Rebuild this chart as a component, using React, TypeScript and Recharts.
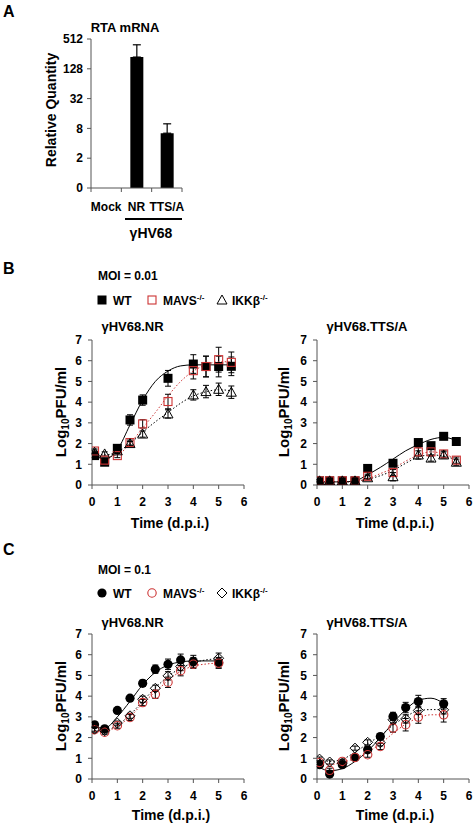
import React from 'react';
import { BarChart, Bar, XAxis, YAxis, ErrorBar, ScatterChart, Scatter } from 'recharts';

const FONT = '"Liberation Sans", Arial, Helvetica, sans-serif';
const RED = '#cc3333';
const AXIS = '#555555';

// ---------- Panel A : RTA mRNA ----------
const rtaCategories = ['Mock', 'NR', 'TTS/A'];
const rtaValues = [0.5, 221, 6.4];
const rtaErrors: [number, number][] = [[0, 0.17], [0, 170], [0, 3.5]];
const rtaTicks = [0.5, 2, 8, 32, 128, 512];

// ---------- common ----------
const timeTicks = [0, 1, 2, 3, 4, 5, 6];
const pfuTicks = [0, 1, 2, 3, 4, 5, 6, 7];

// ---------- Panel B : MOI = 0.01 ----------
const bTimes = [0.1, 0.5, 1, 1.5, 2, 3, 4, 4.5, 5, 5.5];
const bFitTimes = [0.1, 0.5, 1, 1.5, 2, 2.5, 3, 3.5, 4, 4.5, 5, 5.5];

const bNrWT = [1.42, 1.1, 1.77, 3.14, 4.1, 5.15, 5.84, 5.72, 5.72, 5.73];
const bNrWTErr = [0.1, 0.1, 0.12, 0.25, 0.25, 0.38, 0.45, 0.5, 0.5, 0.45];
const bNrMAVS = [1.64, 1.2, 1.42, 2.05, 2.95, 4.03, 5.52, 5.72, 6.05, 5.92];
const bNrMAVSErr = [0.1, 0.1, 0.1, 0.12, 0.2, 0.35, 0.4, 0.5, 0.6, 0.5];
const bNrIKK = [1.58, 1.5, 1.65, 2.0, 2.46, 3.43, 4.35, 4.51, 4.62, 4.48];
const bNrIKKErr = [0.1, 0.1, 0.1, 0.1, 0.15, 0.2, 0.25, 0.3, 0.3, 0.3];
const bNrWTFit = [1.45, 1.25, 1.7, 2.9, 4.1, 5.0, 5.5, 5.75, 5.8, 5.8, 5.8, 5.8];
const bNrMAVSFit = [1.6, 1.35, 1.45, 2.0, 2.75, 3.5, 4.3, 5.0, 5.5, 5.8, 5.95, 5.95];
const bNrIKKFit = [1.6, 1.45, 1.6, 2.0, 2.55, 3.05, 3.5, 3.95, 4.3, 4.5, 4.6, 4.55];

const bTtsWT = [0.2, 0.2, 0.2, 0.2, 0.8, 1.05, 2.05, 1.9, 2.35, 2.1];
const bTtsWTErr = [0.05, 0.05, 0.05, 0.05, 0.1, 0.1, 0.15, 0.15, 0.1, 0.1];
const bTtsMAVS = [0.2, 0.2, 0.2, 0.2, 0.42, 0.6, 1.6, 1.6, 1.5, 1.2];
const bTtsMAVSErr = [0.05, 0.05, 0.05, 0.05, 0.1, 0.15, 0.2, 0.2, 0.15, 0.15];
const bTtsIKK = [0.2, 0.2, 0.2, 0.2, 0.35, 0.4, 1.45, 1.3, 1.45, 1.1];
const bTtsIKKErr = [0.05, 0.05, 0.05, 0.05, 0.1, 0.2, 0.2, 0.15, 0.15, 0.15];
const bTtsWTFit = [0.15, 0.15, 0.15, 0.2, 0.5, 0.85, 1.25, 1.65, 1.95, 2.2, 2.3, 2.15];
const bTtsMAVSFit = [0.15, 0.15, 0.15, 0.18, 0.3, 0.55, 0.8, 1.15, 1.45, 1.6, 1.5, 1.25];
const bTtsIKKFit = [0.15, 0.15, 0.15, 0.18, 0.28, 0.45, 0.7, 1.05, 1.35, 1.45, 1.4, 1.2];

// ---------- Panel C : MOI = 0.1 ----------
const cTimes = [0.1, 0.5, 1, 1.5, 2, 2.5, 3, 3.5, 4, 5];
const cFitTimes = [0.1, 0.5, 1, 1.5, 2, 2.5, 3, 3.5, 4, 4.5, 5];

const cNrWT = [2.62, 2.42, 3.31, 3.9, 4.62, 5.3, 5.54, 5.75, 5.67, 5.62];
const cNrWTErr = [0.12, 0.1, 0.1, 0.12, 0.15, 0.2, 0.25, 0.28, 0.3, 0.25];
const cNrMAVS = [2.38, 2.26, 2.57, 2.97, 3.69, 4.09, 4.67, 5.23, 5.54, 5.59];
const cNrMAVSErr = [0.12, 0.1, 0.12, 0.15, 0.15, 0.2, 0.25, 0.25, 0.2, 0.25];
const cNrIKK = [2.41, 2.33, 2.7, 3.05, 3.85, 4.38, 4.98, 5.43, 5.67, 5.83];
const cNrIKKErr = [0.1, 0.1, 0.1, 0.12, 0.15, 0.15, 0.2, 0.2, 0.2, 0.25];
const cNrWTFit = [2.55, 2.45, 3.0, 3.75, 4.55, 5.15, 5.5, 5.65, 5.7, 5.7, 5.7];
const cNrMAVSFit = [2.3, 2.3, 2.55, 3.0, 3.65, 4.2, 4.75, 5.2, 5.45, 5.55, 5.6];
const cNrIKKFit = [2.35, 2.35, 2.6, 3.1, 3.75, 4.4, 4.95, 5.35, 5.6, 5.75, 5.8];

const cTtsWT = [0.69, 0.24, 0.69, 1.04, 1.41, 2.05, 3.02, 3.45, 3.74, 3.63];
const cTtsWTErr = [0.1, 0.1, 0.1, 0.1, 0.12, 0.15, 0.2, 0.25, 0.3, 0.25];
const cTtsMAVS = [0.8, 0.42, 0.85, 1.04, 1.17, 1.57, 2.46, 2.62, 2.99, 3.1];
const cTtsMAVSErr = [0.1, 0.1, 0.1, 0.1, 0.12, 0.15, 0.2, 0.3, 0.3, 0.35];
const cTtsIKK = [0.96, 0.82, 0.77, 1.49, 1.77, 1.75, 2.86, 2.9, 3.31, 3.34];
const cTtsIKKErr = [0.1, 0.1, 0.1, 0.1, 0.12, 0.15, 0.15, 0.2, 0.2, 0.2];
const cTtsWTFit = [0.55, 0.4, 0.5, 0.85, 1.35, 2.0, 2.7, 3.35, 3.8, 3.9, 3.65];
const cTtsMAVSFit = [0.85, 0.7, 0.8, 1.0, 1.3, 1.7, 2.2, 2.65, 2.95, 3.1, 3.1];
const cTtsIKKFit = [0.95, 0.85, 0.95, 1.3, 1.7, 2.1, 2.6, 3.0, 3.3, 3.35, 3.35];

type Pt = { x: number; y: number; e?: number };
const pts = (t: number[], v: number[], e: number[]): Pt[] => t.map((x, i) => ({ x, y: v[i], e: e[i] }));
const fit = (t: number[], v: number[]): Pt[] => t.map((x, i) => ({ x, y: v[i] }));

const rtaData = rtaCategories.map((c, i) => ({ name: c, value: rtaValues[i], err: rtaErrors[i] }));

// ---------- marker shapes ----------
type Kind = 'fsquare' | 'osquare' | 'otri' | 'fcircle' | 'ocircle' | 'odiamond';
function Marker({ kind, cx, cy }: { kind: Kind; cx: number; cy: number }) {
  if (cx == null || cy == null || isNaN(cx) || isNaN(cy)) return <g />;
  switch (kind) {
    case 'fsquare':
      return <rect x={cx - 4.5} y={cy - 4.5} width={9} height={9} fill="#000" />;
    case 'osquare':
      return <rect x={cx - 4} y={cy - 4} width={8} height={8} fill="none" stroke={RED} strokeWidth={1.1} />;
    case 'otri':
      return <path d={`M${cx},${cy - 5}L${cx + 5},${cy + 4}L${cx - 5},${cy + 4}Z`} fill="none" stroke="#000" strokeWidth={1} />;
    case 'fcircle':
      return <circle cx={cx} cy={cy} r={4.6} fill="#000" />;
    case 'ocircle':
      return <circle cx={cx} cy={cy} r={4.2} fill="none" stroke={RED} strokeWidth={1.1} />;
    case 'odiamond':
      return <path d={`M${cx},${cy - 5}L${cx + 5},${cy}L${cx},${cy + 5}L${cx - 5},${cy}Z`} fill="none" stroke="#000" strokeWidth={1} />;
  }
  return <g />;
}
const shapeOf = (kind: Kind) => (p: any) => <Marker kind={kind} cx={p.cx} cy={p.cy} />;
const emptyShape = () => <g />;

const tickStyle = { fill: '#000', fontSize: 12, fontWeight: 'bold', fontFamily: FONT } as any;

type SeriesDef = { pts: Pt[]; fit: Pt[] };

function TimeChart({ left, top, wt, mavs, ikk, wtKind, mavsKind, ikkKind }: {
  left: number; top: number; wt: SeriesDef; mavs: SeriesDef; ikk: SeriesDef; wtKind: Kind; mavsKind: Kind; ikkKind: Kind;
}) {
  return (
    <div style={{ position: 'absolute', left, top }}>
      <ScatterChart width={222} height={190} margin={{ top: 10, right: 10, bottom: 5, left: 0 }}>
        <XAxis type="number" dataKey="x" domain={[0, 6]} ticks={timeTicks} interval={0} tickSize={4} tickMargin={8}
          stroke={AXIS} tick={tickStyle} allowDataOverflow />
        <YAxis type="number" dataKey="y" domain={[0, 7]} ticks={pfuTicks} interval={0} width={60} tickSize={4} tickMargin={6}
          stroke={AXIS} tick={tickStyle} allowDataOverflow />
        <Scatter data={ikk.fit} line={{ stroke: '#000', strokeWidth: 1, strokeDasharray: '1.5 2' }} lineJointType="monotoneX"
          shape={emptyShape} isAnimationActive={false} />
        <Scatter data={mavs.fit} line={{ stroke: RED, strokeWidth: 1, strokeDasharray: '1.5 2' }} lineJointType="monotoneX"
          shape={emptyShape} isAnimationActive={false} />
        <Scatter data={wt.fit} line={{ stroke: '#000', strokeWidth: 1 }} lineJointType="monotoneX"
          shape={emptyShape} isAnimationActive={false} />
        <Scatter data={wt.pts} shape={shapeOf(wtKind)} isAnimationActive={false}>
          <ErrorBar dataKey="e" direction="y" width={3} stroke="#000" strokeWidth={1} />
        </Scatter>
        <Scatter data={mavs.pts} shape={shapeOf(mavsKind)} isAnimationActive={false}>
          <ErrorBar dataKey="e" direction="y" width={3} stroke="#000" strokeWidth={1} />
        </Scatter>
        <Scatter data={ikk.pts} shape={shapeOf(ikkKind)} isAnimationActive={false}>
          <ErrorBar dataKey="e" direction="y" width={3} stroke="#000" strokeWidth={1} />
        </Scatter>
      </ScatterChart>
    </div>
  );
}

const BAND = 91 / 3;
function CatTick(props: any) {
  const { x, y, payload, index } = props;
  return (
    <g>
      <line x1={x - BAND / 2} x2={x - BAND / 2} y1={y - 14} y2={y - 10} stroke={AXIS} />
      {index === rtaCategories.length - 1 && (
        <line x1={x + BAND / 2} x2={x + BAND / 2} y1={y - 14} y2={y - 10} stroke={AXIS} />
      )}
      <text x={x} y={y} dy="0.71em" textAnchor="middle" fill="#000" fontSize={12} fontWeight="bold" fontFamily={FONT}>
        {payload.value}
      </text>
    </g>
  );
}

function YLabel({ x, y }: { x: number; y: number }) {
  return (
    <text transform={`translate(${x},${y}) rotate(-90)`} textAnchor="middle" fontSize={15}>
      Log<tspan fontSize={10} dy={3}>10</tspan><tspan dy={-3}>PFU/ml</tspan>
    </text>
  );
}

function Legend({ y, wtKind, mavsKind, ikkKind }: { y: number; wtKind: Kind; mavsKind: Kind; ikkKind: Kind }) {
  const cy = y - 5;
  return (
    <g>
      <Marker kind={wtKind} cx={102} cy={cy} />
      <text x={113} y={y} fontSize={12}>WT</text>
      <Marker kind={mavsKind} cx={152} cy={cy} />
      <text x={163} y={y} fontSize={12}>MAVS<tspan fontSize={8} dy={-5}>-/-</tspan></text>
      <Marker kind={ikkKind} cx={222} cy={cy} />
      <text x={232} y={y} fontSize={12}>IKKβ<tspan fontSize={8} dy={-5}>-/-</tspan></text>
    </g>
  );
}

export default function App() {
  return (
    <div style={{ position: 'absolute', left: 0, top: 0, width: 475, height: 829, background: '#fff', fontFamily: FONT }}>
      {/* Panel A */}
      <div style={{ position: 'absolute', left: 0, top: 0 }}>
        <BarChart width={192} height={240} data={rtaData} margin={{ top: 39, right: 10, bottom: 22, left: 0 }}>
          <XAxis dataKey="name" type="category" tickSize={4} tickMargin={10} tickLine={false} stroke={AXIS} tick={<CatTick />} interval={0} />
          <YAxis type="number" scale="log" domain={[0.5, 512]} ticks={rtaTicks} interval={0} width={91} tickSize={4} tickMargin={4}
            stroke={AXIS} tick={tickStyle} allowDataOverflow tickFormatter={(v: number) => (v === 0.5 ? '0' : String(v))} />
          <Bar dataKey="value" fill="#000" barSize={13} isAnimationActive={false}>
            <ErrorBar dataKey="err" direction="y" width={4} stroke="#000" strokeWidth={1.2} />
          </Bar>
        </BarChart>
      </div>

      {/* Panel B */}
      <TimeChart left={32} top={330}
        wt={{ pts: pts(bTimes, bNrWT, bNrWTErr), fit: fit(bFitTimes, bNrWTFit) }}
        mavs={{ pts: pts(bTimes, bNrMAVS, bNrMAVSErr), fit: fit(bFitTimes, bNrMAVSFit) }}
        ikk={{ pts: pts(bTimes, bNrIKK, bNrIKKErr), fit: fit(bFitTimes, bNrIKKFit) }}
        wtKind="fsquare" mavsKind="osquare" ikkKind="otri" />
      <TimeChart left={257} top={330}
        wt={{ pts: pts(bTimes, bTtsWT, bTtsWTErr), fit: fit(bFitTimes, bTtsWTFit) }}
        mavs={{ pts: pts(bTimes, bTtsMAVS, bTtsMAVSErr), fit: fit(bFitTimes, bTtsMAVSFit) }}
        ikk={{ pts: pts(bTimes, bTtsIKK, bTtsIKKErr), fit: fit(bFitTimes, bTtsIKKFit) }}
        wtKind="fsquare" mavsKind="osquare" ikkKind="otri" />

      {/* Panel C */}
      <TimeChart left={32} top={624}
        wt={{ pts: pts(cTimes, cNrWT, cNrWTErr), fit: fit(cFitTimes, cNrWTFit) }}
        mavs={{ pts: pts(cTimes, cNrMAVS, cNrMAVSErr), fit: fit(cFitTimes, cNrMAVSFit) }}
        ikk={{ pts: pts(cTimes, cNrIKK, cNrIKKErr), fit: fit(cFitTimes, cNrIKKFit) }}
        wtKind="fcircle" mavsKind="ocircle" ikkKind="odiamond" />
      <TimeChart left={257} top={624}
        wt={{ pts: pts(cTimes, cTtsWT, cTtsWTErr), fit: fit(cFitTimes, cTtsWTFit) }}
        mavs={{ pts: pts(cTimes, cTtsMAVS, cTtsMAVSErr), fit: fit(cFitTimes, cTtsMAVSFit) }}
        ikk={{ pts: pts(cTimes, cTtsIKK, cTtsIKKErr), fit: fit(cFitTimes, cTtsIKKFit) }}
        wtKind="fcircle" mavsKind="ocircle" ikkKind="odiamond" />

      {/* Annotations */}
      <svg width={475} height={829} style={{ position: 'absolute', left: 0, top: 0, pointerEvents: 'none' }}
        fontFamily={FONT} fontWeight="bold" fill="#000">
        <text x={3} y={17} fontSize={16} fontWeight="900">A</text>
        <text x={125} y={32} fontSize={13} textAnchor="middle">RTA mRNA</text>
        <text transform="translate(56,110) rotate(-90)" textAnchor="middle" fontSize={14}>Relative Quantity</text>
        <line x1={125} x2={182} y1={219} y2={219} stroke="#000" strokeWidth={2} />
        <text x={151} y={238} fontSize={14} textAnchor="middle">γHV68</text>

        <text x={3} y={274} fontSize={16} fontWeight="900">B</text>
        <text x={98} y={280} fontSize={12}>MOI = 0.01</text>
        <Legend y={305} wtKind="fsquare" mavsKind="osquare" ikkKind="otri" />
        <text x={132.5} y={331} fontSize={13} textAnchor="middle">γHV68.NR</text>
        <text x={367} y={331} fontSize={13} textAnchor="middle">γHV68.TTS/A</text>
        <YLabel x={66} y={412} />
        <YLabel x={289} y={412} />
        <text x={170} y={528} fontSize={14} textAnchor="middle">Time (d.p.i.)</text>
        <text x={395} y={528} fontSize={14} textAnchor="middle">Time (d.p.i.)</text>

        <text x={3} y={555} fontSize={16} fontWeight="900">C</text>
        <text x={98} y={574} fontSize={12}>MOI = 0.1</text>
        <Legend y={598} wtKind="fcircle" mavsKind="ocircle" ikkKind="odiamond" />
        <text x={132.5} y={627} fontSize={13} textAnchor="middle">γHV68.NR</text>
        <text x={367} y={627} fontSize={13} textAnchor="middle">γHV68.TTS/A</text>
        <YLabel x={66} y={706} />
        <YLabel x={289} y={706} />
        <text x={171} y={820} fontSize={14} textAnchor="middle">Time (d.p.i.)</text>
        <text x={395} y={820} fontSize={14} textAnchor="middle">Time (d.p.i.)</text>
      </svg>
    </div>
  );
}
